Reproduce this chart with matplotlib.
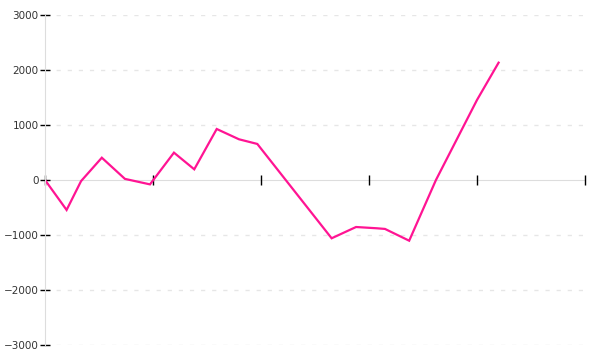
import matplotlib
matplotlib.use("Agg")
import matplotlib.pyplot as plt

# series (x in axis units 0..25, y in value units)
x_vals = [0, 1.0, 1.67, 2.63, 3.7, 4.86, 5.97, 6.91, 7.95, 8.98, 9.83,
          13.27, 14.4, 15.36, 15.74, 16.86, 18.1, 20.0, 21.0]
y_vals = [0, -545, -20, 405, 20, -80, 497, 194, 927, 740, 655,
          -1060, -855, -878, -890, -1104, 0, 1455, 2133]

x_ticks = [0, 5, 10, 15, 20, 25]
y_ticks = [-3000, -2000, -1000, 0, 1000, 2000, 3000]

fig = plt.figure(figsize=(6, 3.6), dpi=100)
ax = fig.add_axes([0.075, 0.0417, 0.9, 0.9167])

ax.plot(x_vals, y_vals, color="#ff1493", linewidth=1.6, solid_joinstyle="miter")

ax.set_xlim(0, 25)
ax.set_ylim(-3000, 3000)
ax.set_xticks(x_ticks)
ax.set_xticklabels([])
ax.set_yticks(y_ticks)
ax.set_yticklabels([str(v).replace("-", "\u2212") for v in y_ticks])

for v in y_ticks:
    if v != 0:
        ax.axhline(v, color="#e6e6e6", linewidth=1, linestyle=(0, (3, 5)), zorder=0)

for side in ("top", "right"):
    ax.spines[side].set_visible(False)
ax.spines["left"].set_color("#dddddd")
ax.spines["bottom"].set_position(("data", 0))
ax.spines["bottom"].set_color("#dddddd")
ax.spines["bottom"].set_zorder(0)

ax.tick_params(axis="y", direction="inout", length=7, width=1, color="black",
               labelsize=7.5, labelcolor="#333333", pad=1)
ax.tick_params(axis="x", direction="inout", length=7, width=1, color="black")

fig.savefig("out.png", dpi=100)
